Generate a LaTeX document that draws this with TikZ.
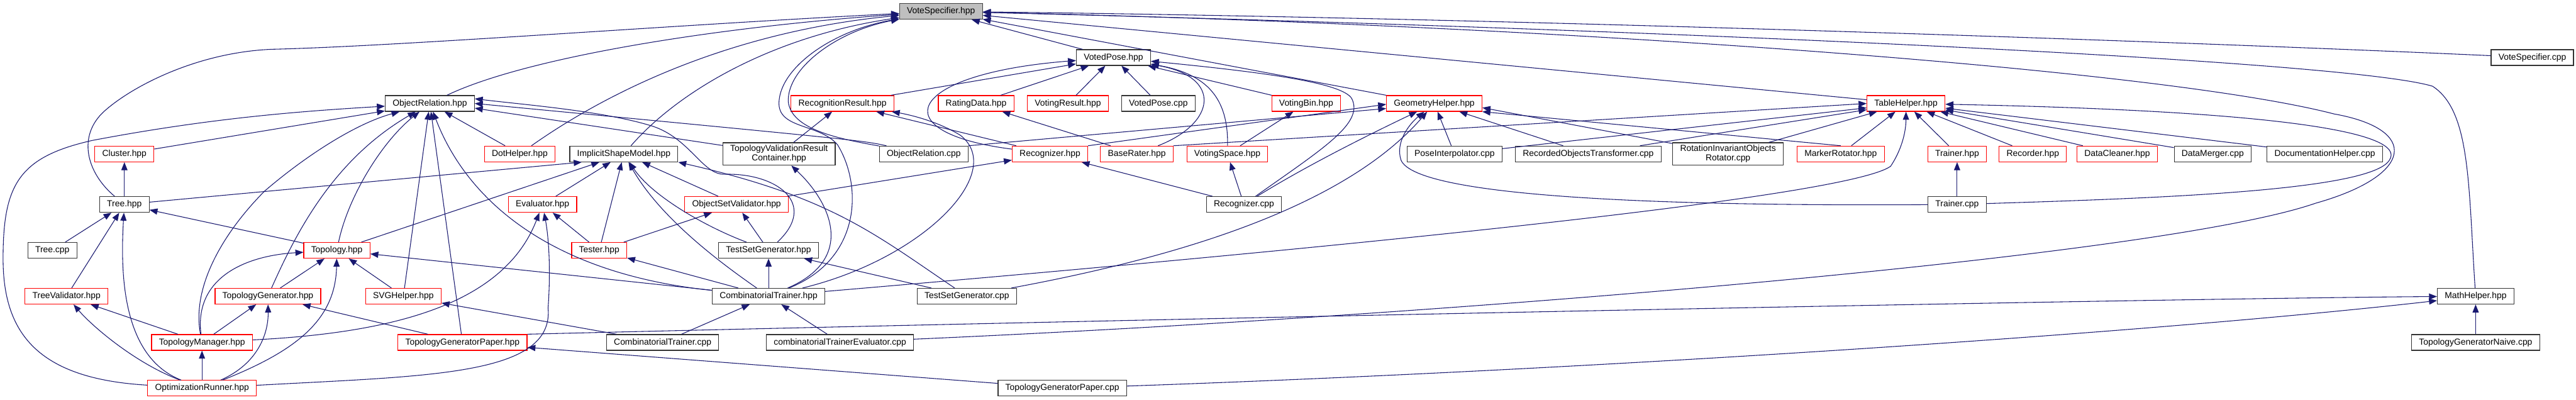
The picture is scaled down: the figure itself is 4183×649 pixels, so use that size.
\documentclass[tikz,border=0pt]{standalone}
\usepackage{fontspec}
\setmainfont{Liberation Sans}
\usetikzlibrary{arrows.meta}
\definecolor{edgeblue}{RGB}{25,25,112}
\definecolor{mainfill}{RGB}{191,191,191}

\begin{document}
\begin{tikzpicture}[x=0.5pt, y=-0.5pt,
    filebox/.style = {draw=black!80, line width=0.6pt, fill=white, minimum height=12.75pt,
                      inner xsep=6pt, inner ysep=2pt, align=center, font=\fontsize{7.1}{7.6}\selectfont},
    redbox/.style = {filebox, draw=red},
    mainbox/.style = {filebox, draw=black!75, fill=mainfill},
    incl/.style = {draw=edgeblue, line width=0.55pt, -{Triangle[length=6.5pt, width=5pt]}}]
    \useasboundingbox (0,0) rectangle (4183,649);

    \node[mainbox] (vs) at (1528,18.5) {VoteSpecifier.hpp};
    \node[filebox] (vp) at (1808,93.5) {VotedPose.hpp};
    \node[filebox] (vscpp) at (4112,93.5) {VoteSpecifier.cpp};

    \node[filebox] (orh) at (698,168) {ObjectRelation.hpp};
    \node[redbox] (rr) at (1368,168) {RecognitionResult.hpp};
    \node[redbox] (rd) at (1585,168) {RatingData.hpp};
    \node[redbox] (vr) at (1734,168) {VotingResult.hpp};
    \node[filebox] (vpcpp) at (1881,168) {VotedPose.cpp};
    \node[redbox] (vb) at (2121,168) {VotingBin.hpp};
    \node[redbox] (gh) at (2329,168) {GeometryHelper.hpp};
    \node[redbox] (th) at (3095,168) {TableHelper.hpp};

    \node[redbox] (cl) at (202,250) {Cluster.hpp};
    \node[redbox] (dh) at (844,250) {DotHelper.hpp};
    \node[filebox] (ism) at (1013,250) {ImplicitShapeModel.hpp};
    \node[filebox] (tvrc) at (1265,250) {TopologyValidationResult\\Container.hpp};
    \node[filebox] (orcpp) at (1500,250) {ObjectRelation.cpp};
    \node[redbox] (rec) at (1705,250) {Recognizer.hpp};
    \node[redbox] (br) at (1846,250) {BaseRater.hpp};
    \node[redbox] (vsp) at (1993,250) {VotingSpace.hpp};
    \node[filebox] (pi) at (2362,250) {PoseInterpolator.cpp};
    \node[filebox] (rot) at (2579,250) {RecordedObjectsTransformer.cpp};
    \node[filebox] (rior) at (2806,250) {RotationInvariantObjects\\Rotator.cpp};
    \node[redbox] (mr) at (2989,250) {MarkerRotator.hpp};
    \node[redbox] (trh) at (3178,250) {Trainer.hpp};
    \node[redbox] (rch) at (3301,250) {Recorder.hpp};
    \node[redbox] (dc) at (3438,250) {DataCleaner.hpp};
    \node[filebox] (dm) at (3593,250) {DataMerger.cpp};
    \node[filebox] (doc) at (3775,250) {DocumentationHelper.cpp};

    \node[filebox] (tree) at (202,332) {Tree.hpp};
    \node[redbox] (ev) at (881,332) {Evaluator.hpp};
    \node[redbox] (osv) at (1196,332) {ObjectSetValidator.hpp};
    \node[filebox] (reccpp) at (2020,332) {Recognizer.cpp};
    \node[filebox] (trcpp) at (3178,332) {Trainer.cpp};

    \node[filebox] (treecpp) at (85,406.5) {Tree.cpp};
    \node[redbox] (top) at (547,406.5) {Topology.hpp};
    \node[redbox] (tst) at (973,406.5) {Tester.hpp};
    \node[filebox] (tsg) at (1248,406.5) {TestSetGenerator.hpp};

    \node[redbox] (tv) at (108,481) {TreeValidator.hpp};
    \node[redbox] (tg) at (435,481) {TopologyGenerator.hpp};
    \node[redbox] (svg) at (655,481) {SVGHelper.hpp};
    \node[filebox] (ct) at (1248,481) {CombinatorialTrainer.hpp};
    \node[filebox] (tsgcpp) at (1570,481) {TestSetGenerator.cpp};
    \node[filebox] (mh) at (4020,481) {MathHelper.hpp};

    \node[redbox] (tm) at (328,556) {TopologyManager.hpp};
    \node[redbox] (tgp) at (751,556) {TopologyGeneratorPaper.hpp};
    \node[filebox] (ctcpp) at (1076,556) {CombinatorialTrainer.cpp};
    \node[filebox] (cte) at (1364,556) {combinatorialTrainerEvaluator.cpp};
    \node[filebox] (tgn) at (4020,556) {TopologyGeneratorNaive.cpp};

    \node[redbox] (opt) at (328,630.5) {OptimizationRunner.hpp};
    \node[filebox] (tgpcpp) at (1725,630.5) {TopologyGeneratorPaper.cpp};

    \foreach \a/\b in {vp/vs, th/vs, rr/vp, rd/vp, vr/vp, vpcpp/vp, vb/vp,
        cl/orh, dh/orh, svg/orh, tgp/orh, rec/rr, tvrc/rr, br/rd, vsp/vb,
        pi/gh, rot/gh, pi/th, rot/th, rior/th, mr/th, trh/th, rch/th, dc/th, dm/th, doc/th,
        osv/rec, reccpp/rec, reccpp/vsp, tree/cl, top/ism, ev/ism, tst/ism, osv/ism,
        treecpp/tree, tv/tree, top/tree, tst/ev, tst/osv, tsg/osv, trcpp/trh,
        tg/top, svg/top, ct/top, ct/tst, ct/tsg, tsgcpp/tsg, tm/tv, tm/tg, tgp/tg,
        ctcpp/svg, ctcpp/ct, cte/ct, tgn/mh, opt/tm, tgpcpp/tgp}
        \draw[incl] (\a) -- (\b);

    \draw[incl] (tree) -- ([xshift=10pt]ism.south west);
    \draw[incl] (tvrc) -- (orh.-6);
    \draw[incl] (orcpp) .. controls (1400,228) .. (orh.east);
    \draw[incl] (orcpp.north east) -- (gh.-174);
    \draw[incl] (rec.north east) -- (gh.-179);
    \draw[incl] (br.north east) -- (th.west);
    \draw[incl] (rior) -- (gh.-5);
    \draw[incl] (mr.north) -- (gh.south east);
    \draw[incl] (gh.north west) -- (vs);

    \draw[incl] (orh) .. controls (850,95) and (1150,45) .. (vs);
    \draw[incl] (tree) .. controls (140,280) and (125,220) .. (170,180) .. controls (215,140) and (320,85) .. (442,80) .. controls (650,75) and (1100,40) .. (vs);
    \draw[incl] (dh) .. controls (1000,140) and (1200,50) .. (vs);
    \draw[incl] (ism) .. controls (1100,150) and (1250,60) .. (vs);
    \draw[incl] (orcpp) .. controls (1360,225) and (1285,210) .. (1280,165) .. controls (1278,110) and (1360,50) .. (vs);
    \draw[incl] (ct) .. controls (1400,420) and (1400,300) .. (1360,235) .. controls (1330,200) and (1262,210) .. (1265,165) .. controls (1268,110) and (1350,50) .. (vs);
    \draw[incl] (vscpp) .. controls (3600,70) and (2500,30) .. (vs);
    \draw[incl] (mh) .. controls (4008,300) and (4012,180) .. (3950,140) .. controls (3800,95) and (2600,45) .. (vs);
    \draw[incl] (cte) .. controls (2300,515) and (3500,420) .. (3760,330) .. controls (3920,285) and (3930,210) .. (3790,185) .. controls (3500,110) and (2500,40) .. (vs);
    \draw[incl] (trcpp) .. controls (3500,322) and (3850,310) .. (3880,260) .. controls (3910,215) and (3700,180) .. (th);

    \draw[incl] (rec) .. controls (1430,215) and (1470,120) .. (vp);
    \draw[incl] (br) .. controls (1975,200) and (1985,125) .. (vp);
    \draw[incl] (vsp) .. controls (1995,160) and (1960,120) .. (vp);
    \draw[incl] (reccpp) .. controls (2150,240) and (2215,200) .. (2195,160) .. controls (2180,135) and (2060,118) .. (vp);

    \draw[incl] (opt) .. controls (60,615) and (5,540) .. (5,420) .. controls (5,300) and (30,255) .. (150,228) .. controls (350,190) and (500,180) .. (orh);
    \draw[incl] (tm) .. controls (310,460) and (370,370) .. (430,310) .. controls (500,250) and (580,200) .. (orh);
    \draw[incl] (tg) .. controls (480,380) and (540,260) .. (orh);
    \draw[incl] (top) .. controls (565,320) and (620,230) .. (orh);
    \draw[incl] (ct) .. controls (900,445) and (760,330) .. (orh);
    \draw[incl] (tsg) .. controls (1330,330) and (1260,280) .. (1175,283) .. controls (1140,282) and (1120,225) .. (1060,205) .. controls (980,180) and (850,170) .. (orh.6);

    \draw[incl] (ct) .. controls (1500,420) and (1635,280) .. (1560,220) .. controls (1520,195) and (1470,185) .. (rr);
    \draw[incl] (reccpp) .. controls (2120,270) and (2220,220) .. (gh);
    \draw[incl] (tsgcpp) .. controls (1900,420) and (2180,340) .. (gh);
    \draw[incl] (trcpp) .. controls (2700,335) and (2300,320) .. (2275,260) .. controls (2265,230) and (2290,200) .. (gh);
    \draw[incl] (ct) .. controls (2200,400) and (3000,320) .. (3070,270) .. controls (3090,240) and (3095,210) .. (th);

    \draw[incl] (ct) .. controls (1160,420) and (1070,350) .. (ism);
    \draw[incl] (tsg) .. controls (1150,370) and (1060,320) .. (ism);
    \draw[incl] (tsgcpp) .. controls (1420,380) and (1350,320) .. (ism.south east);
    \draw[incl] (ct) .. controls (1390,420) and (1350,330) .. (tvrc);

    \draw[incl] (opt) .. controls (200,580) and (195,450) .. (tree);
    \draw[incl] (tm) .. controls (650,540) and (820,490) .. (ev);
    \draw[incl] (opt) .. controls (700,610) and (900,610) .. (890,500) .. controls (895,430) and (890,380) .. (ev);
    \draw[incl] (tm) .. controls (315,450) and (400,415) .. (top);
    \draw[incl] (opt) .. controls (480,570) and (545,520) .. (top);
    \draw[incl] (opt) .. controls (220,590) and (150,530) .. (tv);
    \draw[incl] (opt) .. controls (420,590) and (436,540) .. (tg);

    \draw[incl] (tgp.north east) .. controls (2000,515) and (3500,485) .. (mh);
    \draw[incl] (tgpcpp) .. controls (2600,600) and (3500,540) .. (mh);
\end{tikzpicture}
\end{document}
